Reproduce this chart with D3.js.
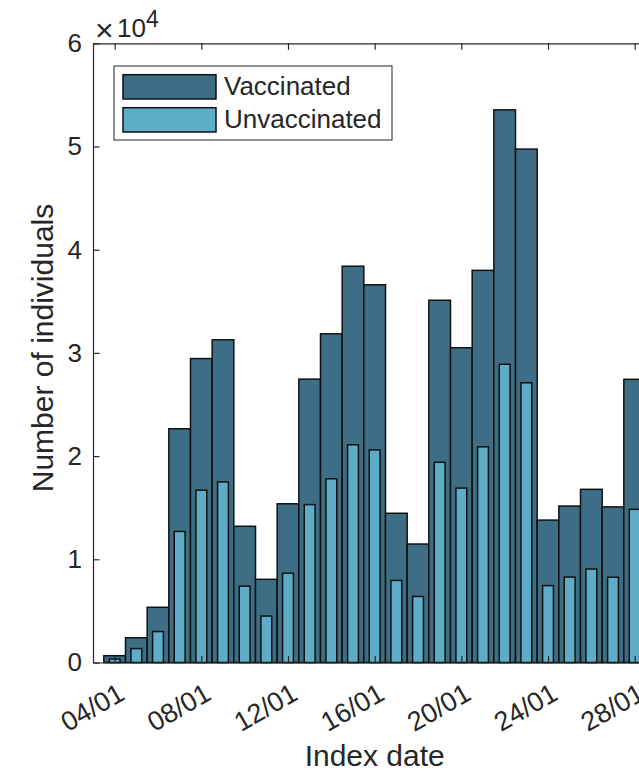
<!DOCTYPE html>
<html>
<head>
<meta charset="utf-8">
<script src="https://cdn.jsdelivr.net/npm/d3@7"></script>
<style>
  body { margin: 0; background: #fff; }
  svg { display: block; font-family: "Liberation Sans", Arial, sans-serif; }
  .axis path, .axis line { stroke: #262626; stroke-width: 1.2; }
  .axis text { fill: #262626; }
</style>
</head>
<body>
<div class="chart"></div>
<script>
// day of January (index date)
const days = [4,5,6,7,8,9,10,11,12,13,14,15,16,17,18,19,20,21,22,23,24,25,26,27,28];
const vaccinated = [660,2400,5350,22650,29450,31270,13200,8060,15380,27460,31850,38400,36600,
                    14460,11480,35100,30500,38000,53550,49750,13800,15160,16780,15080,27440];
const unvaccinated = [340,1350,3000,12700,16700,17500,7400,4500,8650,15300,17800,21100,20600,
                      7950,6400,19400,16900,20900,28900,27100,7450,8280,9060,8260,14840];
const tickDays = [4,8,12,16,20,24,28,32];
const yTicks = [0,10000,20000,30000,40000,50000,60000];
const seriesNames = ['Vaccinated','Unvaccinated'];
const colors = ['#3e6e85','#5eacc8'];

const W = 639, H = 771;
const margin = ({top:43.3, left:93, bottom:108.5});
const dayW = 21.667;
const plotH = H - margin.top - margin.bottom;

let svg = d3.select('.chart')
    .append('svg')
    .attr('width', W)
    .attr('height', H);

const xScale = d3.scaleLinear()
    .domain([3, 32])
    .range([margin.left, margin.left + 29*dayW]);
const yScale = d3.scaleLinear()
    .domain([0, 60000])
    .range([margin.top + plotH, margin.top]);

const bw = xScale(1) - xScale(0);

// vaccinated: full width bars
svg.append('g').selectAll('rect')
    .data(days)
    .enter()
    .append('rect')
    .attr('x', d => xScale(d - 0.5))
    .attr('y', (d,i) => yScale(vaccinated[i]))
    .attr('width', bw)
    .attr('height', (d,i) => yScale(0) - yScale(vaccinated[i]))
    .attr('fill', colors[0])
    .attr('stroke', '#111')
    .attr('stroke-width', 1.5);

// unvaccinated: half width bars on top
svg.append('g').selectAll('rect')
    .data(days)
    .enter()
    .append('rect')
    .attr('x', d => xScale(d - 0.25))
    .attr('y', (d,i) => yScale(unvaccinated[i]))
    .attr('width', bw/2)
    .attr('height', (d,i) => yScale(0) - yScale(unvaccinated[i]))
    .attr('fill', colors[1])
    .attr('stroke', '#111')
    .attr('stroke-width', 1.5);

const fmtDay = d => String(d).padStart(2,'0') + '/01';

const xAxis = d3.axisBottom(xScale)
    .tickValues(tickDays)
    .tickFormat(fmtDay)
    .tickSizeInner(-6.5)
    .tickSizeOuter(0);

svg.append('g')
    .attr('class','axis x-axis')
    .attr('transform', `translate(0, ${yScale(0)})`)
    .call(xAxis)
    .call(g => g.selectAll('text')
        .attr('font-size', 27)
        .attr('text-anchor','end')
        .attr('x', 0).attr('y', 0).attr('dy', 0)
        .attr('transform', 'translate(11, 36) rotate(-30)'));

svg.append('g')
    .attr('class','axis top-axis')
    .attr('transform', `translate(0, ${margin.top})`)
    .call(d3.axisTop(xScale).tickValues(tickDays).tickFormat('').tickSizeInner(-6.5).tickSizeOuter(0));

const yAxis = d3.axisLeft(yScale)
    .tickValues(yTicks)
    .tickFormat(d => d/10000)
    .tickSizeInner(-6.5)
    .tickSizeOuter(0)
    .tickPadding(11);

svg.append('g')
    .attr('class','axis y-axis')
    .attr('transform', `translate(${margin.left}, 0)`)
    .call(yAxis)
    .call(g => g.selectAll('text').attr('font-size', 26));

// exponent label
let expo = svg.append('text')
    .attr('fill', '#262626')
    .attr('font-size', 26);
expo.append('tspan').attr('x', 95).attr('y', 41).attr('font-size', 32).text('\u00d7');
expo.append('tspan').attr('x', 117).attr('y', 37).text('10');
expo.append('tspan').attr('x', 146).attr('y', 27).attr('font-size', 23).text('4');

// axis labels
svg.append('text')
    .text('Index date')
    .attr('x', 374.7)
    .attr('y', 766)
    .attr('text-anchor','middle')
    .attr('font-size', 30)
    .attr('fill', '#262626');

svg.append('text')
    .text('Number of individuals')
    .attr('transform', 'translate(53, 348) rotate(-90)')
    .attr('text-anchor','middle')
    .attr('font-size', 30)
    .attr('fill', '#262626');

// legend
let legend = svg.append('g');
legend.append('rect')
    .attr('x', 114).attr('y', 66)
    .attr('width', 278).attr('height', 74)
    .attr('fill', '#fff')
    .attr('stroke', '#262626')
    .attr('stroke-width', 1);

legend.selectAll('rect.box')
    .data(seriesNames)
    .enter()
    .append('rect')
    .attr('class','box')
    .attr('x', 123)
    .attr('y', (d,i) => 74.7 + i*33)
    .attr('width', 93)
    .attr('height', 24.3)
    .attr('fill', (d,i) => colors[i])
    .attr('stroke', '#111')
    .attr('stroke-width', 1.5);

legend.selectAll('text')
    .data(seriesNames)
    .enter()
    .append('text')
    .text(d => d)
    .attr('x', 224)
    .attr('y', (d,i) => 95 + i*33)
    .attr('font-size', 26)
    .attr('fill', '#262626');
</script>
</body>
</html>
